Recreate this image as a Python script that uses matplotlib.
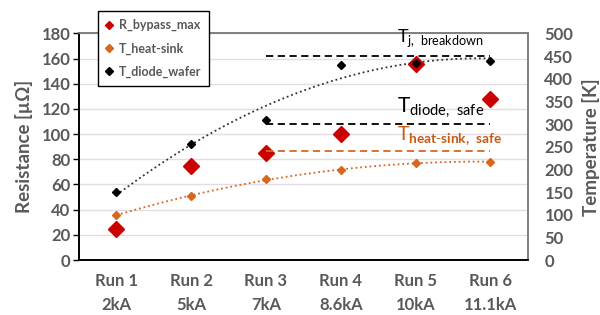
import numpy as np
import matplotlib.pyplot as plt
from matplotlib.lines import Line2D

plt.rcParams['font.family'] = ['Lato', 'DejaVu Sans']
plt.rcParams['mathtext.fontset'] = 'custom'
plt.rcParams['mathtext.rm'] = 'Lato'
plt.rcParams['mathtext.bf'] = 'Lato:bold'

# data
runs = ['Run 1\n2kA', 'Run 2\n5kA', 'Run 3\n7kA', 'Run 4\n8.6kA', 'Run 5\n10kA', 'Run 6\n11.1kA']
r_bypass_max = [25, 75, 85, 100, 156, 128]      # µOhm, left axis
t_heat_sink = [99, 142, 178, 198, 214, 217]      # K, right axis
t_diode_wafer = [149, 255, 310, 431, 435, 439]   # K, right axis
t_j_breakdown = 450
t_diode_safe = 300
t_heatsink_safe = 240

GRAY = '#595959'
RED = '#CC0000'
ORANGE = '#D9661F'
ORANGE_TXT = '#C55A11'

fig = plt.figure(figsize=(6, 3.15), dpi=100)
ax = fig.add_axes([0.1317, 0.1746, 0.7478, 0.7194])
ax2 = ax.twinx()

x = np.arange(len(runs))

ax.set_xlim(-0.5, len(runs) - 0.5)
ax.set_ylim(0, 180)
ax.set_yticks(np.arange(0, 181, 20))
ax2.set_ylim(0, 500)
ax2.set_yticks(np.arange(0, 501, 50))

ax.grid(axis='y', color='#E4DCE4', lw=1)
ax.set_axisbelow(True)

# resistance on the left axis (drawn under the temperature markers)
ax.plot(x, r_bypass_max, 'D', color=RED, ms=8.5, ls='none', zorder=5)

# trendlines (2nd-order poly fits like the spreadsheet)
xx = np.linspace(0, len(runs) - 1, 200)
p_d = np.polyfit(x, t_diode_wafer, 2)
p_h = np.polyfit(x, t_heat_sink, 2)
ax2.plot(xx, np.polyval(p_d, xx), ls=(0, (1, 1.6)), color='#333333', lw=1.3)
ax2.plot(xx, np.polyval(p_h, xx), ls=(0, (1, 1.6)), color=ORANGE, lw=1.3)

# limit lines from run 3 to run 6
ax2.hlines(t_j_breakdown, 2, 5, colors='black', linestyles=(0, (4, 2.5)), lw=1.3)
ax2.hlines(t_diode_safe, 2, 5, colors='black', linestyles=(0, (4, 2.5)), lw=1.3)
ax2.hlines(t_heatsink_safe, 2, 5, colors=ORANGE, linestyles=(0, (4, 2.5)), lw=1.3)

ax2.plot(x, t_heat_sink, 'D', color=ORANGE, ms=4, ls='none')
ax2.plot(x, t_diode_wafer, 'D', color='black', ms=4, ls='none')

ax2.text(3.75, 481, r'T$_{\mathrm{j,\ breakdown}}$', fontsize=13, color='black')
ax2.text(3.75, 327, r'T$_{\mathrm{diode,\ safe}}$', fontsize=15, color='black')
ax2.text(3.75, 262, r'T$_{\mathbf{heat\text{-}sink,\ safe}}$', fontsize=14, color=ORANGE_TXT)

ax.set_xticks(x)
ax.set_xticklabels(runs, linespacing=1.65)
for lab in ax.get_xticklabels() + ax.get_yticklabels() + ax2.get_yticklabels():
    lab.set_fontweight('bold')
    lab.set_color(GRAY)
    lab.set_fontsize(12)
ax.tick_params(axis='x', length=0, pad=9)
ax.tick_params(axis='y', length=4, width=1, color='black', pad=2)
ax2.tick_params(axis='y', length=0, pad=12)

ax.set_ylabel('Resistance [µΩ]', fontsize=13.5, fontweight='bold', color=GRAY, labelpad=6)
ax2.set_ylabel('Temperature [K]', fontsize=13.5, fontweight='bold', color=GRAY, labelpad=6)

for a in (ax, ax2):
    a.spines['left'].set_color('black')
    a.spines['bottom'].set_color('black')
    a.spines['top'].set_color('#7F7F7F')
    a.spines['right'].set_color('#7F7F7F')
    for s in a.spines.values():
        s.set_linewidth(1.2)

handles = [
    Line2D([], [], marker='D', color=RED, ls='none', ms=4),
    Line2D([], [], marker='D', color=ORANGE, ls='none', ms=4),
    Line2D([], [], marker='D', color='black', ls='none', ms=4),
]
leg = ax2.legend(handles, ['R_bypass_max', 'T_heat-sink', 'T_diode_wafer'],
                 loc='upper left', bbox_to_anchor=(0.042, 1.097), borderaxespad=0,
                 frameon=True, fancybox=False, edgecolor='black', framealpha=1,
                 handlelength=0.6, handletextpad=0.5, labelspacing=0.9,
                 borderpad=0.6, prop={'weight': 'bold', 'size': 9})
leg.get_frame().set_linewidth(1.0)
for t in leg.get_texts():
    t.set_color(GRAY)
leg.set_zorder(10)

fig.savefig('out.png', dpi=100)
